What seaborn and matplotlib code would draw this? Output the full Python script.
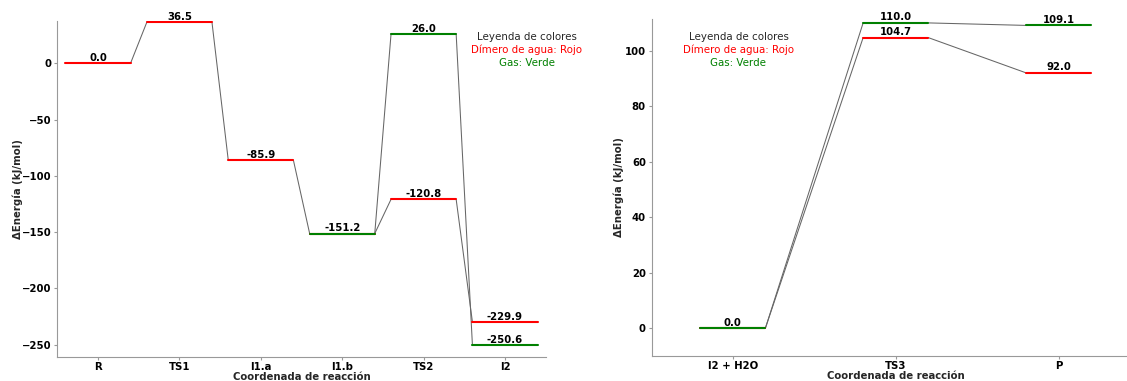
import numpy as np
import pandas as pd
import matplotlib
matplotlib.use("Agg")
import matplotlib.pyplot as plt
import seaborn as sns

# Perfil 1: R -> I2
pasos_1 = ["R", "TS1", "I1.a", "I1.b", "TS2", "I2"]
dimero_1 = [0.0, 36.5, -85.9, -151.2, -120.8, -229.9]
gas_1 = [np.nan, np.nan, np.nan, -151.2, 26.0, -250.6]

# Perfil 2: I2 + H2O -> P
pasos_2 = ["I2 + H2O", "TS3", "P"]
dimero_2 = [0.0, 104.7, 92.0]
gas_2 = [0.0, 110.0, 109.1]

COLOR_DIMERO = "red"
COLOR_GAS = "green"
COLOR_CONECTOR = "0.4"

sns.set_style("ticks", {
    "axes.edgecolor": "0.6",
    "xtick.color": "0.6",
    "ytick.color": "0.6",
})
plt.rcParams.update({
    "font.family": ["DejaVu Sans"],
    "xtick.labelcolor": "black",
    "ytick.labelcolor": "black",
    "xtick.major.size": 2,
    "ytick.major.size": 2,
    "xtick.major.pad": 1.5,
    "ytick.major.pad": 2,
    "axes.linewidth": 0.8,
})

FS = 7.3
W, H = 1127, 381


def tabla_niveles(valores, medio):
    filas = []
    for i, v in enumerate(valores):
        if not np.isnan(v):
            filas.append({"seg": i, "x": i - medio, "y": v})
            filas.append({"seg": i, "x": i + medio, "y": v})
    return pd.DataFrame(filas)


def tabla_conectores(valores, medio):
    filas = []
    for i in range(len(valores) - 1):
        a, b = valores[i], valores[i + 1]
        if np.isnan(a) or np.isnan(b):
            continue
        filas.append({"seg": i, "x": i + medio, "y": a})
        filas.append({"seg": i, "x": i + 1 - medio, "y": b})
    return pd.DataFrame(filas)


def perfil(ax, pasos, dimero, gas, medio):
    dimero = np.asarray(dimero, dtype=float)
    gas = np.asarray(gas, dtype=float)
    for serie in (dimero, gas):
        con = tabla_conectores(serie, medio)
        sns.lineplot(data=con, x="x", y="y", units="seg", estimator=None,
                     color=COLOR_CONECTOR, lw=0.75, ax=ax, zorder=1)
    etiquetados = set()
    for serie, color in ((dimero, COLOR_DIMERO), (gas, COLOR_GAS)):
        niv = tabla_niveles(serie, medio)
        sns.lineplot(data=niv, x="x", y="y", units="seg", estimator=None,
                     color=color, lw=1.5, ax=ax, zorder=2)
        for i, v in enumerate(serie):
            if np.isnan(v) or (i, v) in etiquetados:
                continue
            etiquetados.add((i, v))
            ax.annotate(f"{v:.1f}", (i, v), xytext=(0, 0.3),
                        textcoords="offset points", ha="center", va="bottom",
                        fontsize=FS, fontweight="bold", color="black")
    ax.set_xticks(range(len(pasos)))
    ax.set_xticklabels(pasos)
    ax.set_xlim(-0.5, len(pasos) - 0.5)
    ax.set_xlabel("Coordenada de reacción", fontsize=FS, fontweight="bold",
                  labelpad=0)
    ax.set_ylabel("ΔEnergía (kJ/mol)", fontsize=FS, fontweight="bold")
    sns.despine(ax=ax)


fig = plt.figure(figsize=(W / 100, H / 100), dpi=100)
ax1 = fig.add_axes([57.3 / W, (H - 356.7) / H, 488.4 / W, (356.7 - 20.7) / H])
ax2 = fig.add_axes([651.5 / W, (H - 355.7) / H, 488.4 / W, (355.7 - 19.3) / H])

perfil(ax1, pasos_1, dimero_1, gas_1, 0.4)
ax1.set_ylim(-260.6, 37.8)
ax1.set_yticks(np.arange(-250, 1, 50))
ax1.yaxis.set_label_coords(-0.070, 0.5)

perfil(ax2, pasos_2, dimero_2, gas_2, 0.2)
ax2.set_ylim(-10.0, 111.3)
ax2.set_yticks(np.arange(0, 101, 20))
ax2.yaxis.set_label_coords(-0.056, 0.5)
for ax in (ax1, ax2):
    for lab in ax.get_xticklabels() + ax.get_yticklabels():
        lab.set_fontweight("bold")
        lab.set_fontsize(FS)


def leyenda(cx):
    lineas = [("Leyenda de colores", "#262626"),
              ("Dímero de agua: Rojo", COLOR_DIMERO),
              ("Gas: Verde", COLOR_GAS)]
    for (texto, color), py in zip(lineas, (37.3, 50.0, 62.7)):
        fig.text(cx / W, 1 - py / H, texto, color=color, fontsize=7.4,
                 ha="center", va="center")


leyenda(526.7)
leyenda(738.5)

fig.savefig("out.png", dpi=100)
